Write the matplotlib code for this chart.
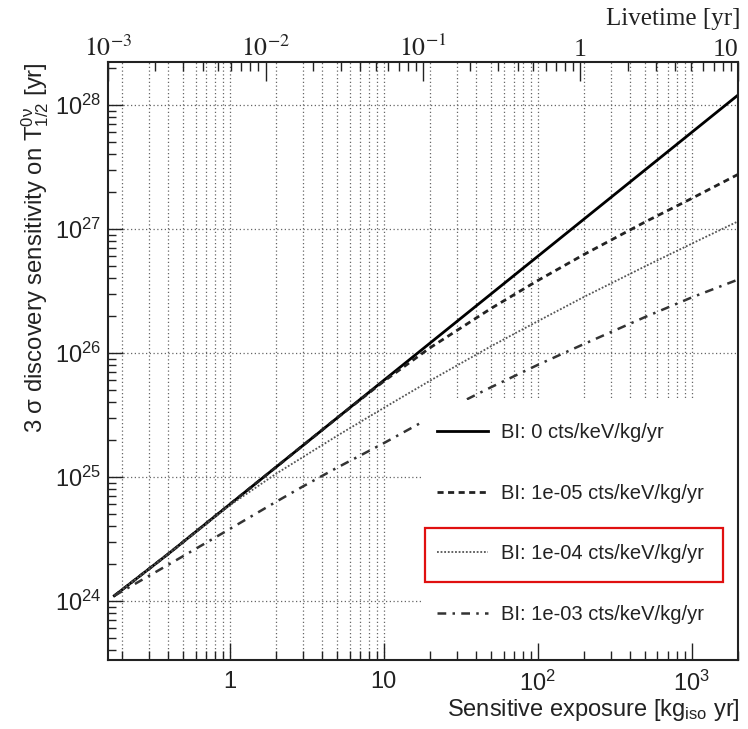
import matplotlib
matplotlib.use("Agg")
import matplotlib.pyplot as plt
from matplotlib.patches import Rectangle
from matplotlib.ticker import LogLocator, NullFormatter, FixedLocator

plt.rcParams['font.family'] = ['Liberation Sans', 'DejaVu Sans']
plt.rcParams['mathtext.fontset'] = 'custom'
plt.rcParams['mathtext.rm'] = 'Liberation Sans'
plt.rcParams['mathtext.it'] = 'Liberation Sans:italic'
plt.rcParams['mathtext.bf'] = 'Liberation Sans:bold'

# ---------------- data ----------------
exposure = [0.178, 0.4, 1, 2, 3, 5, 10, 20, 50, 100, 200, 500, 1000, 2000]
sens_bi0 = [1.1e24, 2.4e24, 6.0e24, 1.2e25, 1.8e25, 3.0e25, 6.0e25, 1.2e26,
            3.0e26, 6.0e26, 1.2e27, 3.0e27, 6.0e27, 1.2e28]
sens_bi1e5 = [1.1e24, 2.4e24, 6.0e24, 1.2e25, 1.8e25, 3.0e25, 5.9e25, 1.10e26,
              2.29e26, 3.83e26, 6.22e26, 1.14e27, 1.76e27, 2.75e27]
sens_bi1e4 = [1.1e24, 2.4e24, 5.9e24, 1.06e25, 1.45e25, 2.15e25, 3.6e25, 5.97e25,
              1.135e26, 1.80e26, 2.83e26, 5.0e26, 7.6e26, 1.15e27]
sens_bi1e3 = [1.1e24, 1.96e24, 3.8e24, 6.3e24, 8.4e24, 1.19e25, 1.87e25, 3.0e25,
              5.3e25, 8.0e25, 1.18e26, 1.95e26, 2.8e26, 3.9e26]
labels = ["BI: 0 cts/keV/kg/yr", "BI: 1e-05 cts/keV/kg/yr",
          "BI: 1e-04 cts/keV/kg/yr", "BI: 1e-03 cts/keV/kg/yr"]

x_ticks = [1, 10, 100, 1000]
x_ticklabels = ["1", "10", r"$10^{2}$", r"$10^{3}$"]
y_ticks = [1e24, 1e25, 1e26, 1e27, 1e28]
y_ticklabels = [r"$10^{24}$", r"$10^{25}$", r"$10^{26}$", r"$10^{27}$", r"$10^{28}$"]
top_ticks = [1e-3, 1e-2, 1e-1, 1, 10]
top_ticklabels = [r"$10^{-3}$", r"$10^{-2}$", r"$10^{-1}$", "1", "10"]

xlim = (0.162, 2000)
ylim = (3.34e23, 2.22e28)
toplim = (1e-3, 10)

# ---------------- figure ----------------
fig = plt.figure(figsize=(7.48, 7.29), dpi=100)
pos = [0.1444, 0.0947, 0.8422, 0.8203]

ax = fig.add_axes(pos)
ax.set_xscale('log'); ax.set_yscale('log')
ax.set_xlim(*xlim); ax.set_ylim(*ylim)
ax.xaxis.set_major_locator(FixedLocator(x_ticks))
ax.xaxis.set_minor_locator(LogLocator(base=10, subs=range(2, 10), numticks=20))
ax.yaxis.set_major_locator(FixedLocator(y_ticks))
ax.yaxis.set_minor_locator(LogLocator(base=10, subs=range(2, 10), numticks=20))
gkw = dict(color='#666666', linestyle=(0, (1, 2)), linewidth=0.9)
ax.grid(True, which='both', axis='x', **gkw)
ax.grid(True, which='major', axis='y', **gkw)
ax.tick_params(which='both', length=0, labelbottom=False, labelleft=False)
for s in ax.spines.values():
    s.set_visible(False)

l0, = ax.plot(exposure, sens_bi0, color='black', lw=2.0, ls='-', zorder=2)
l1, = ax.plot(exposure, sens_bi1e5, color='#222222', lw=2.0, ls=(0, (2.2, 1.6)), zorder=2)
l2, = ax.plot(exposure, sens_bi1e4, color='#555555', lw=1.3, ls=(0, (1, 1)), zorder=2)
l3, = ax.plot(exposure, sens_bi1e3, color='#333333', lw=1.8, ls=(0, (3.5, 2.5, 1, 2.5)), zorder=2)

# white legend area
ax.add_patch(Rectangle((0.5, 0.0), 0.5, 0.4348, transform=ax.transAxes,
                       facecolor='white', edgecolor='none', zorder=3))
leg = ax.legend([l0, l1, l2, l3], labels, loc='center left',
                bbox_to_anchor=(0.5222, 0.2283), frameon=False, fontsize=14.5,
                borderpad=0, handlelength=2.53, handletextpad=0.65,
                labelspacing=2.06, borderaxespad=0)
leg.set_zorder(4)
for t in leg.get_texts():
    t.set_color('#222222')
# red highlight box
ax.add_patch(Rectangle((0.503, 0.1304), 0.473, 0.0903, transform=ax.transAxes,
                       facecolor='none', edgecolor='#e01010', linewidth=1.6, zorder=5))

# ---------------- frame overlay (ticks, labels) ----------------
axf = fig.add_axes(pos)
axf.patch.set_visible(False)
axf.set_xscale('log'); axf.set_yscale('log')
axf.set_xlim(*xlim); axf.set_ylim(*ylim)
axf.set_xticks(x_ticks, x_ticklabels)
axf.xaxis.set_minor_locator(LogLocator(base=10, subs=range(2, 10), numticks=20))
axf.xaxis.set_minor_formatter(NullFormatter())
axf.set_yticks(y_ticks, y_ticklabels)
axf.yaxis.set_minor_locator(LogLocator(base=10, subs=range(2, 10), numticks=20))
axf.yaxis.set_minor_formatter(NullFormatter())
axf.tick_params(which='both', direction='in', top=False, right=False, width=1.0,
                color='#222222', labelsize=17, labelcolor='#222222')
axf.tick_params(axis='x', which='major', length=12, pad=8)
axf.tick_params(axis='x', which='minor', length=6.5)
axf.tick_params(axis='y', which='major', length=11, pad=5)
axf.tick_params(axis='y', which='minor', length=6)
for s in axf.spines.values():
    s.set_linewidth(1.5); s.set_color('#222222')

# top livetime axis
axt = axf.twiny()
axt.set_xscale('log')
axt.set_xlim(*toplim)
axt.set_xticks(top_ticks, top_ticklabels, fontfamily='Liberation Serif',
               math_fontfamily='stix')
axt.get_xticklabels()[-1].set_horizontalalignment('right')
axt.xaxis.set_minor_locator(LogLocator(base=10, subs=range(2, 10), numticks=20))
axt.xaxis.set_minor_formatter(NullFormatter())
axt.tick_params(axis='x', which='both', direction='in', color='#222222',
                labelsize=18.5, labelcolor='#222222', width=1.0)
axt.tick_params(axis='x', which='major', length=14, pad=1)
axt.tick_params(axis='x', which='minor', length=6.5)
for s in axt.spines.values():
    s.set_visible(False)

# ---------------- titles ----------------
fig.text(0.9906, 1 - 19 / 729, "Livetime [yr]", ha='right', va='center',
         fontsize=18, family='Liberation Serif', color='#222222')
fig.text(0.9893, 1 - 710 / 729, r"Sensitive exposure [kg$_{\mathregular{iso}}$ yr]",
         ha='right', va='center', fontsize=17, color='#222222')
fig.text(35 / 748, 1 - 62 / 729,
         r"3 σ discovery sensitivity on $\mathregular{T^{0ν}_{1/2}}$ [yr]",
         rotation=90, ha='center', va='top', fontsize=17.2, color='#222222')

fig.savefig("out.png", dpi=100)
